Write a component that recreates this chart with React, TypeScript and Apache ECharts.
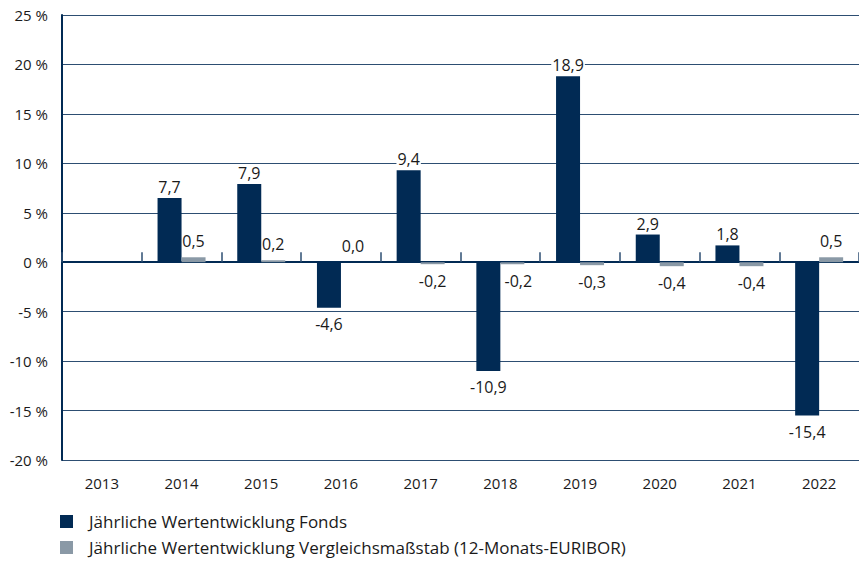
import React, { useEffect, useRef } from "react";
import * as echarts from "echarts";

const years = ["2013", "2014", "2015", "2016", "2017", "2018", "2019", "2020", "2021", "2022"];
const fondsValues: (number | null)[] = [null, 6.5, 7.9, -4.6, 9.3, -11.0, 18.8, 2.8, 1.7, -15.5];
const fondsLabels = ["", "7,7", "7,9", "-4,6", "9,4", "-10,9", "18,9", "2,9", "1,8", "-15,4"];
const benchValues: (number | null)[] = [null, 0.5, 0.2, 0.0, -0.2, -0.2, -0.3, -0.4, -0.4, 0.5];
const benchLabels = ["", "0,5", "0,2", "0,0", "-0,2", "-0,2", "-0,3", "-0,4", "-0,4", "0,5"];
const yTicks = { min: -20, max: 25, interval: 5 };
const seriesNames = [
  "Jährliche Wertentwicklung Fonds",
  "Jährliche Wertentwicklung Vergleichsmaßstab (12-Monats-EURIBOR)",
];

const NAVY = "#012a54";
const GREY = "#8a99a6";
const GRID = "#2d4e72";
const TEXT = "#1a1a1a";
const FONT = "'Open Sans', sans-serif";

function makeData(
  values: (number | null)[],
  labels: string[],
  topDist: number,
  bottomDist: number,
  shiftIndex: number = -1
) {
  return values.map((v, i) => {
    if (v === null) return { value: "-" as any };
    const neg = v < 0;
    return {
      value: v,
      label: {
        show: true,
        position: neg ? "bottom" : "top",
        distance: neg ? bottomDist : topDist,
        offset: i === shiftIndex ? [6, 0] : [0, 0],
        formatter: labels[i],
      },
    };
  });
}

export default function App() {
  const ref = useRef<HTMLDivElement>(null);
  useEffect(() => {
    if (!ref.current) return;
    const chart = echarts.init(ref.current, null, { renderer: "svg" });
    const labelStyle = {
      color: TEXT,
      fontSize: 16,
      fontFamily: FONT,
      backgroundColor: "#ffffff",
      padding: [0, 1],
    };
    const legendBase = {
      orient: "horizontal",
      left: 60,
      padding: 0,
      itemWidth: 13,
      itemHeight: 13,
      icon: "rect",
      selectedMode: false,
      textStyle: { color: TEXT, fontSize: 17, fontFamily: FONT, padding: [0, 0, 0, 11] },
    };
    chart.setOption({
      animation: false,
      textStyle: { fontFamily: FONT },
      grid: { left: 62, right: 0, top: 15, bottom: 102, containLabel: false },
      legend: [
        { ...legendBase, top: 513, data: [seriesNames[0]] },
        { ...legendBase, top: 539, data: [seriesNames[1]] },
      ],
      xAxis: [
        {
          type: "category",
          data: years,
          position: "bottom",
          axisLine: { show: false, onZero: false },
          axisTick: { show: false },
          axisLabel: { color: TEXT, fontSize: 15, fontFamily: FONT, margin: 15 },
          splitLine: { show: false },
        },
        {
          type: "category",
          data: years,
          position: "bottom",
          axisLine: { show: true, onZero: true, lineStyle: { color: NAVY, width: 2 } },
          axisTick: { show: true, inside: true, length: 10, lineStyle: { color: GRID, width: 1.5 } },
          axisLabel: { show: false },
          splitLine: { show: false },
        },
      ],
      yAxis: {
        type: "value",
        min: yTicks.min,
        max: yTicks.max,
        interval: yTicks.interval,
        axisLine: { show: true, lineStyle: { color: NAVY, width: 2 } },
        axisTick: { show: false },
        axisLabel: {
          color: TEXT,
          fontSize: 15,
          fontFamily: FONT,
          margin: 14,
          formatter: (v: number) => `${v} %`,
        },
        splitLine: { show: true, lineStyle: { color: GRID, width: 1.2 } },
      },
      series: [
        {
          name: seriesNames[0],
          type: "bar",
          xAxisIndex: 0,
          barWidth: 24,
          barGap: "0%",
          itemStyle: { color: NAVY },
          label: { ...labelStyle },
          data: makeData(fondsValues, fondsLabels, 3, 8),
          z: 3,
        },
        {
          name: seriesNames[1],
          type: "bar",
          xAxisIndex: 0,
          barWidth: 24,
          barGap: "0%",
          itemStyle: { color: GREY },
          label: { ...labelStyle, padding: 0 },
          data: makeData(benchValues, benchLabels, 8, 9, 5),
          z: 3,
        },
      ],
    });
    return () => chart.dispose();
  }, []);
  return <div ref={ref} style={{ width: 859, height: 562, position: "absolute", left: 0, top: 0 }} />;
}
